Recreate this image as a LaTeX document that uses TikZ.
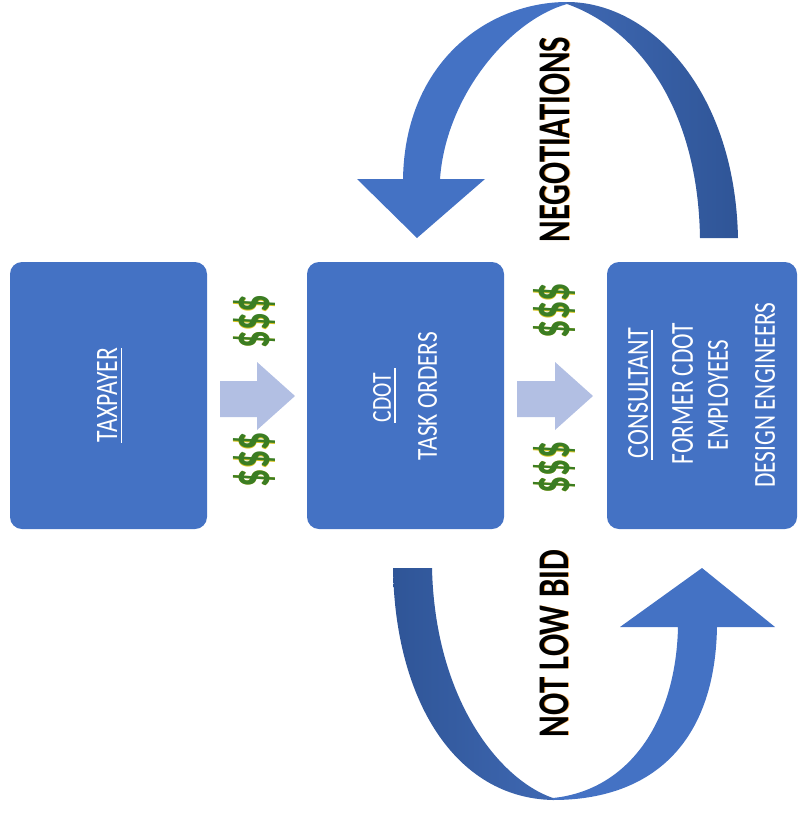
\documentclass[tikz,border=0pt]{standalone}
\usepackage{fontspec}
\setmainfont{Carlito}
\usepackage{graphicx}
\definecolor{boxblue}{HTML}{4472C4}
\definecolor{darkblue}{HTML}{2F5597}
\definecolor{midblue}{HTML}{3F68B2}
\definecolor{lightarrow}{HTML}{B2BFE3}
\definecolor{money}{HTML}{3B7D23}
\definecolor{moneyedge}{HTML}{D8C320}
\definecolor{fringe}{HTML}{F0A040}
\newcommand{\fitbox}[3]{\resizebox*{#1pt}{#2pt}{#3}}
\tikzset{
  box/.style={fill=boxblue, rounded corners=12pt, inner sep=0pt},
  boxtext/.style={rotate=90, text=white, inner sep=0pt},
  ul/.style={draw=white, line width=1.8pt},
  flow/.style={fill=lightarrow},
  moneytext/.style={rotate=90, text=money, inner sep=0pt, font=\bfseries},
  moneyshadow/.style={rotate=90, text=moneyedge, inner sep=0pt, font=\bfseries},
  looptext/.style={rotate=90, text=black, inner sep=0pt, font=\bfseries},
  loopshadow/.style={rotate=90, text=fringe, inner sep=0pt, font=\bfseries},
  lightpart/.style={fill=boxblue},
  darkpart/.style={left color=midblue, right color=darkblue},
  darkpartb/.style={left color=darkblue, right color=midblue},
}
\begin{document}
\begin{tikzpicture}[x=1pt,y=-1pt]
\useasboundingbox (0,0) rectangle (799,817);

% boxes
\node[box, minimum width=197pt, minimum height=267pt] (tax) at (108.5,395.5) {};
\node[box, minimum width=197pt, minimum height=267pt] (cdot) at (405.5,395.5) {};
\node[box, minimum width=190pt, minimum height=267pt] (cons) at (702,395.5) {};

% box texts
\node[boxtext] (taxt) at (107,395) {\fitbox{94}{20}{TAXPAYER}};
\draw[ul] (121.5,348) -- (121.5,443);

\node[boxtext] (cdott) at (382,397.5) {\fitbox{49}{18}{CDOT}};
\draw[ul] (395,368) -- (395,423);
\node[boxtext] (task) at (427.5,396) {\fitbox{128}{19}{TASK ORDERS}};

\node[boxtext] (const) at (638,393) {\fitbox{130}{20}{CONSULTANT}};
\draw[ul] (652,330) -- (652,460);
\node[boxtext] (former) at (682.5,393.5) {\fitbox{141}{21}{FORMER CDOT}};
\node[boxtext] (empl) at (718,395) {\fitbox{110}{20}{EMPLOYEES}};
\node[boxtext] (design) at (765,395) {\fitbox{185}{20}{DESIGN ENGINEERS}};

% block arrows
\fill[flow] (220,381) -- (257,381) -- (257,362) -- (295,396) -- (257,430) -- (257,417) -- (220,417) -- cycle;
\fill[flow] (517,381) -- (555,381) -- (555,362) -- (593,396) -- (555,430) -- (555,417) -- (517,417) -- cycle;

% money signs
\node[moneyshadow] (m1s) at (254.7,322.3) {\fitbox{53}{42}{\$\$\$}};
\node[moneytext] (m1) at (254,321.5) {\fitbox{53}{42}{\$\$\$}};
\node[moneyshadow] (m2s) at (254.7,460.3) {\fitbox{55}{42}{\$\$\$}};
\node[moneytext] (m2) at (254,459.5) {\fitbox{55}{42}{\$\$\$}};
\node[moneyshadow] (m3s) at (554.7,311.3) {\fitbox{55}{42}{\$\$\$}};
\node[moneytext] (m3) at (554,310.5) {\fitbox{55}{42}{\$\$\$}};
\node[moneyshadow] (m4s) at (554.7,468.3) {\fitbox{51}{42}{\$\$\$}};
\node[moneytext] (m4) at (554,467.5) {\fitbox{51}{42}{\$\$\$}};

% top curved arrow (negotiations)
\fill[lightpart] (417,238) -- (485,179) -- (440,179)
  .. controls (446,95) and (510,20) .. (567,4) -- (567,2)
  .. controls (490,2) and (405,60) .. (403,179) -- (357,179) -- cycle;
\shade[darkpart] (567,2) .. controls (650,2) and (735,90) .. (738,238)
  -- (700,238) .. controls (698,110) and (640,30) .. (567,4) -- cycle;

% bottom curved arrow (not low bid)
\shade[darkpartb] (393,568) -- (432,568) .. controls (435,700) and (500,780) .. (553,798)
  -- (553,800) .. controls (455,798) and (395,700) .. (393,568) -- cycle;
\fill[lightpart] (553,800) .. controls (650,800) and (715,745) .. (717,627)
  -- (775,627) -- (702,568) -- (620,627) -- (678,627)
  .. controls (676,720) and (630,790) .. (553,798) -- cycle;

% loop labels
\node[loopshadow] (negs) at (555.8,139.5) {\fitbox{205}{30}{NEGOTIATIONS}};
\node[looptext] (neg) at (555,139.5) {\fitbox{205}{30}{NEGOTIATIONS}};
\node[loopshadow] (nlbs) at (555.3,643.5) {\fitbox{187}{29}{NOT LOW BID}};
\node[looptext] (nlb) at (554.5,643.5) {\fitbox{187}{29}{NOT LOW BID}};
\end{tikzpicture}
\end{document}
